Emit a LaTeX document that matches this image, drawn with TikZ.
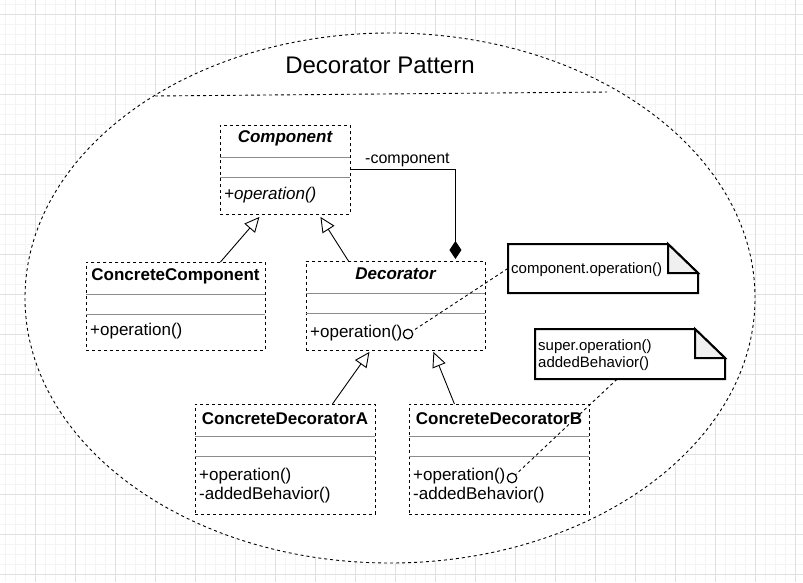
\documentclass[tikz,border=0pt]{standalone}
\usepackage{fontspec}
\setmainfont{Liberation Sans}
\usetikzlibrary{arrows.meta, fit}
\tikzstyle{canvas} = [x = 1pt, y = -1pt]
\definecolor{gridMajor}{RGB}{224,224,224}
\definecolor{gridMinor}{RGB}{244,244,244}
\definecolor{foldColor}{RGB}{240,240,240}
\definecolor{compartColor}{RGB}{140,140,140}
\tikzstyle{gridMinorLine} = [color=gridMinor, line width=0.8pt]
\tikzstyle{gridMajorLine} = [color=gridMajor, line width=0.9pt]
\tikzstyle{frameStyle} = [draw=black, fill=white, dash pattern=on 3pt off 3pt, line width=0.9pt]
\tikzstyle{classStyle} = [draw=black, fill=white, dash pattern=on 3pt off 3pt, line width=0.9pt, inner sep=0, anchor=north west]
\tikzstyle{compartLine} = [color=compartColor, line width=0.9pt]
\tikzstyle{classTitle} = [font=\fontsize{17}{20}\selectfont\bfseries, inner sep=0]
\tikzstyle{classText} = [font=\fontsize{17}{20}\selectfont, anchor=west, inner sep=0]
\tikzstyle{roleText} = [font=\fontsize{16}{19}\selectfont, anchor=west, inner sep=0]
\tikzstyle{noteStyle} = [draw=black, fill=white, line width=2pt]
\tikzstyle{foldStyle} = [draw=black, fill=foldColor, line width=2pt]
\tikzstyle{noteText} = [font=\fontsize{15}{17}\selectfont, anchor=west, inner sep=0, align=left]
\tikzstyle{inheritLine} = [-{Triangle[open, length=15pt, width=14pt]}, line width=0.9pt]
\tikzstyle{ownLine} = [-{Diamond[length=18pt, width=12pt]}, line width=1pt]
\tikzstyle{noteLink} = [dash pattern=on 3pt off 3pt, line width=0.9pt]
\tikzstyle{portStyle} = [circle, draw=black, fill=white, line width=1.2pt, minimum size=9.5pt, inner sep=0]
\newcommand{\umlClass}[5]{
  \node [classStyle, minimum width=#4pt, minimum height=#5pt] (#1) at (#2, #3) {};
  \draw [compartLine] (#2, #3 + 32) -- + (#4, 0);
  \draw [compartLine] (#2, #3 + 52) -- + (#4, 0);
}
\newcommand{\umlNote}[5]{
  \filldraw [noteStyle] (#2, #3) -- (#4 - 30, #3) -- (#4, #3 + 29) -- (#4, #5) -- (#2, #5) -- cycle;
  \filldraw [foldStyle] (#4 - 30, #3) -- (#4 - 30, #3 + 29) -- (#4, #3 + 29) -- cycle;
  \node [fit={(#2, #3) (#4, #5)}, inner sep=0] (#1) {};
}
\newcommand{\gridLines}[2]{
  \foreach \gx in {5,15,...,#1} {\draw [gridMinorLine] (\gx, 0) -- (\gx, #2);}
  \foreach \gy in {4,14,...,#2} {\draw [gridMinorLine] (0, \gy) -- (#1, \gy);}
  \foreach \gx in {35,75,...,#1} {\draw [gridMajorLine] (\gx, 0) -- (\gx, #2);}
  \foreach \gy in {14,54,...,#2} {\draw [gridMajorLine] (0, \gy) -- (#1, \gy);}
}

\begin{document}
\begin{tikzpicture}[canvas]
  \fill [white] (0, 0) rectangle (803, 582);
  \useasboundingbox (0, 0) rectangle (803, 582);
  \gridLines{803}{582}

  \draw [frameStyle] (390, 298) ellipse [x radius=365pt, y radius=265pt];
  \draw [frameStyle, fill=none] (155, 96) -- (607, 92);
  \node [font=\fontsize{24}{28}\selectfont] (patternTitle) at (380, 65) {Decorator Pattern};

  \umlClass{component}{220}{125}{130}{89}
  \umlClass{concreteComponent}{86}{262}{179}{88}
  \umlClass{decorator}{306}{261}{179}{89}
  \umlClass{decoratorA}{195}{404}{180}{110}
  \umlClass{decoratorB}{409}{404}{180}{110}

  \node [classTitle] (componentName) at (285, 138) {\itshape Component};
  \node [classText] (componentOp) at (224, 195) {\itshape +operation()};
  \node [classTitle] (concreteName) at (175.5, 276) {ConcreteComponent};
  \node [classText] (concreteOp) at (90, 331) {+operation()};
  \node [classTitle] (decoratorName) at (395.5, 274) {\itshape Decorator};
  \node [classText] (decoratorOp) at (310, 333) {+operation()};
  \node [classTitle] (decoratorAName) at (285, 419) {ConcreteDecoratorA};
  \node [classText] (decoratorAOp) at (199, 476) {+operation()};
  \node [classText] (decoratorAAdded) at (199, 495) {-addedBehavior()};
  \node [classTitle] (decoratorBName) at (499, 419) {ConcreteDecoratorB};
  \node [classText] (decoratorBOp) at (413, 476) {+operation()};
  \node [classText] (decoratorBAdded) at (413, 495) {-addedBehavior()};

  \draw [inheritLine] ([xshift=44.5pt]concreteComponent.north) -- ([xshift=-26pt, yshift=-2pt]component.south);
  \draw [inheritLine] ([xshift=-47.5pt]decorator.north) -- ([xshift=35pt, yshift=-2pt]component.south);
  \draw [inheritLine] ([xshift=47pt]decoratorA.north) -- ([xshift=-26.5pt, yshift=-1pt]decorator.south);
  \draw [inheritLine] ([xshift=-45pt]decoratorB.north) -- ([xshift=37.5pt, yshift=-1pt]decorator.south);

  \draw [ownLine] (component.east) -| ([xshift=59.5pt, yshift=2pt]decorator.north);
  \node [roleText] (componentRole) at (365, 160) {-component};

  \umlNote{noteOne}{508}{244}{698}{293}
  \node [noteText] (noteOneText) at (511, 269.5) {component.operation()};
  \umlNote{noteTwo}{535}{329}{725}{379}
  \node [noteText] (noteTwoText) at (538, 355.5) {super.operation()\\addedBehavior()};

  \node [portStyle] (decoratorPort) at (408, 334) {};
  \node [portStyle] (decoratorBPort) at (512, 478) {};
  \draw [noteLink] (noteOne.west) -- (decoratorPort);
  \draw [noteLink] ([xshift=-13pt]noteTwo.south) -- (decoratorBPort);
\end{tikzpicture}
\end{document}
